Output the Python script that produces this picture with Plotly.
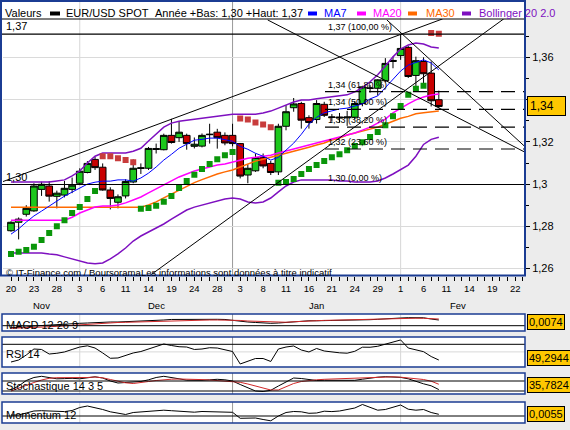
import plotly.graph_objects as go

W, H = 570, 430

# ---------------- data ----------------
nov_days = [20, 21, 22, 23, 26, 27, 28, 29, 30]
dec_days = [3, 4, 5, 6, 7, 10, 11, 12, 13, 14, 17, 18, 19, 20, 21, 24, 26, 27, 28, 31]
jan_days = [2, 3, 4, 7, 8, 9, 10, 11, 14, 15, 16, 17, 18, 21, 22, 23, 24, 25, 28, 29, 30, 31]
feb_days = [1, 4, 5, 6, 7, 8, 11, 12, 13, 14, 15, 18, 19, 20, 21, 22]
month_names = ['Nov', 'Dec', 'Jan', 'Fev']

open_ = [1.2779, 1.2819, 1.2857, 1.2873, 1.2975, 1.2991, 1.2942, 1.2948, 1.2975, 1.3004,
         1.3055, 1.3117, 1.3080, 1.2972, 1.2914, 1.2944, 1.3010, 1.3074, 1.3075, 1.3164,
         1.3163, 1.3231, 1.3220, 1.3231, 1.3179, 1.3180, 1.3234, 1.3246, 1.3231, 1.3231,
         1.3192, 1.3043, 1.3063, 1.3126, 1.3098, 1.3058, 1.3274, 1.3362, 1.3382, 1.3315,
         1.3306, 1.3378, 1.3316, 1.3318, 1.3314, 1.3317, 1.3382, 1.3456, 1.3454, 1.3490,
         1.3581, 1.3609, 1.3648, 1.3515, 1.3581, 1.3526, 1.3400]
high = [1.2824, 1.2842, 1.2900, 1.3004, 1.3011, 1.3014, 1.2969, 1.3015, 1.3031, 1.3075,
        1.3109, 1.3129, 1.3098, 1.2985, 1.2951, 1.3023, 1.3117, 1.3098, 1.3176, 1.3192,
        1.3239, 1.3309, 1.3298, 1.3239, 1.3221, 1.3240, 1.3286, 1.3262, 1.3245, 1.3286,
        1.3195, 1.3094, 1.3145, 1.3145, 1.3110, 1.3286, 1.3374, 1.3408, 1.3390, 1.3326,
        1.3398, 1.3390, 1.3332, 1.3337, 1.3347, 1.3394, 1.3466, 1.3469, 1.3497, 1.3597,
        1.3604, 1.3711, 1.3654, 1.3604, 1.3601, 1.3581, 1.3443]
low = [1.2774, 1.2738, 1.2846, 1.2869, 1.2944, 1.2917, 1.2885, 1.2937, 1.2957, 1.2995,
       1.3051, 1.3067, 1.2969, 1.2880, 1.2885, 1.2932, 1.3004, 1.3048, 1.3067, 1.3145,
       1.3160, 1.3192, 1.3200, 1.3163, 1.3169, 1.3174, 1.3192, 1.3168, 1.3184, 1.3179,
       1.3027, 1.3004, 1.3058, 1.3075, 1.3043, 1.3043, 1.3255, 1.3343, 1.3263, 1.3263,
       1.3287, 1.3318, 1.3296, 1.3291, 1.3276, 1.3307, 1.3369, 1.3434, 1.3420, 1.3482,
       1.3549, 1.3589, 1.3503, 1.3462, 1.3479, 1.3368, 1.3361]
close = [1.2819, 1.2834, 1.2885, 1.2991, 1.2999, 1.2943, 1.2957, 1.2980, 1.2995, 1.3061,
         1.3098, 1.3078, 1.2972, 1.2932, 1.2940, 1.3012, 1.3075, 1.3077, 1.3169, 1.3168,
         1.3231, 1.3197, 1.3246, 1.3192, 1.3189, 1.3231, 1.3236, 1.3220, 1.3195, 1.3192,
         1.3038, 1.3075, 1.3126, 1.3086, 1.3055, 1.3274, 1.3343, 1.3380, 1.3303, 1.3292,
         1.3382, 1.3326, 1.3318, 1.3314, 1.3318, 1.3382, 1.3461, 1.3454, 1.3494, 1.3572,
         1.3586, 1.3643, 1.3510, 1.3585, 1.3523, 1.3395, 1.3368]

ma7 = [1.2763, 1.2788, 1.2820, 1.2849, 1.2872, 1.2896, 1.2920, 1.2943, 1.2962, 1.2981,
       1.3000, 1.3009, 1.3014, 1.3014, 1.3020, 1.3020, 1.3014, 1.3029, 1.3052, 1.3081,
       1.3114, 1.3141, 1.3170, 1.3189, 1.3208, 1.3212, 1.3218, 1.3218, 1.3212, 1.3203,
       1.3179, 1.3165, 1.3146, 1.3132, 1.3114, 1.3127, 1.3161, 1.3194, 1.3236, 1.3284,
       1.3316, 1.3338, 1.3347, 1.3356, 1.3360, 1.3370, 1.3380, 1.3404, 1.3418, 1.3457,
       1.3494, 1.3536, 1.3564, 1.3578, 1.3589, 1.3574, 1.3541]
ma20 = [1.2829, 1.2829, 1.2829, 1.2829, 1.2829, 1.2829, 1.2829, 1.2829, 1.2843, 1.2863,
        1.2877, 1.2891, 1.2896, 1.2896, 1.2901, 1.2911, 1.2925, 1.2939, 1.2958, 1.2977,
        1.2996, 1.3015, 1.3034, 1.3048, 1.3062, 1.3072, 1.3081, 1.3090, 1.3095, 1.3104,
        1.3114, 1.3123, 1.3127, 1.3132, 1.3137, 1.3147, 1.3156, 1.3166, 1.3175, 1.3185,
        1.3195, 1.3204, 1.3214, 1.3224, 1.3233, 1.3242, 1.3256, 1.3270, 1.3289, 1.3308,
        1.3338, 1.3361, 1.3380, 1.3399, 1.3413, 1.3422, 1.3427]
ma30 = [1.2890, 1.2890, 1.2890, 1.2890, 1.2890, 1.2890, 1.2890, 1.2890, 1.2890, 1.2890,
        1.2890, 1.2890, 1.2890, 1.2890, 1.2890, 1.2890, 1.2890, 1.2890, 1.2901, 1.2916,
        1.2935, 1.2954, 1.2973, 1.2992, 1.3007, 1.3021, 1.3035, 1.3048, 1.3058, 1.3067,
        1.3081, 1.3095, 1.3109, 1.3118, 1.3127, 1.3137, 1.3147, 1.3156, 1.3166, 1.3175,
        1.3185, 1.3195, 1.3209, 1.3218, 1.3233, 1.3242, 1.3251, 1.3261, 1.3270, 1.3284,
        1.3298, 1.3312, 1.3321, 1.3333, 1.3338, 1.3342, 1.3346]
boll_up = [1.3010, 1.3010, 1.3010, 1.3010, 1.3010, 1.3010, 1.3015, 1.3020, 1.3039, 1.3062,
           1.3100, 1.3132, 1.3147, 1.3147, 1.3147, 1.3147, 1.3156, 1.3170, 1.3204, 1.3236,
           1.3270, 1.3289, 1.3298, 1.3303, 1.3307, 1.3312, 1.3316, 1.3321, 1.3326, 1.3331,
           1.3331, 1.3331, 1.3331, 1.3337, 1.3346, 1.3360, 1.3374, 1.3389, 1.3399, 1.3399,
           1.3404, 1.3409, 1.3414, 1.3418, 1.3423, 1.3437, 1.3457, 1.3485, 1.3518, 1.3560,
           1.3603, 1.3640, 1.3659, 1.3669, 1.3664, 1.3650, 1.3645]
boll_low = [1.2674, 1.2674, 1.2674, 1.2674, 1.2674, 1.2669, 1.2665, 1.2655, 1.2646, 1.2636,
            1.2626, 1.2622, 1.2626, 1.2646, 1.2669, 1.2697, 1.2730, 1.2754, 1.2773, 1.2791,
            1.2811, 1.2834, 1.2857, 1.2877, 1.2891, 1.2901, 1.2911, 1.2920, 1.2929, 1.2934,
            1.2929, 1.2915, 1.2911, 1.2915, 1.2934, 1.2963, 1.2991, 1.3010, 1.3020, 1.3020,
            1.3020, 1.3020, 1.3020, 1.3015, 1.3015, 1.3010, 1.3010, 1.3010, 1.3015, 1.3029,
            1.3048, 1.3067, 1.3090, 1.3132, 1.3188, 1.3212, 1.3222]
sar = [1.2669, 1.2679, 1.2688, 1.2703, 1.2735, 1.2768, 1.2800, 1.2829, 1.2863, 1.2891,
       1.2929, 1.2967, 1.3132, 1.3132, 1.3123, 1.3114, 1.3104, 1.2883, 1.2887, 1.2897,
       1.2916, 1.2944, 1.2981, 1.3015, 1.3044, 1.3072, 1.3095, 1.3118, 1.3137, 1.3152,
       1.3311, 1.3306, 1.3292, 1.3283, 1.3269, 1.3006, 1.3010, 1.3024, 1.3048, 1.3072,
       1.3090, 1.3109, 1.3127, 1.3142, 1.3161, 1.3180, 1.3198, 1.3223, 1.3247, 1.3279,
       1.3321, 1.3370, 1.3423, 1.3452, 1.3466, 1.3716, 1.3712]
sar_trend = "UUUUUUUUUUUUDDDDDUUUUUUUUUUUUUDDDDDUUUUUUUUUUUUUUUUUUUUDD"

macd = [-0.0026, -0.0026, -0.0017, -0.0004, 0.0003, 0.0009, 0.0016, 0.0022, 0.0029, 0.0031,
        0.0035, 0.0042, 0.0048, 0.0048, 0.0048, 0.0052, 0.0052, 0.0055, 0.0061, 0.0068,
        0.0074, 0.0081, 0.0083, 0.0083, 0.0083, 0.0083, 0.0083, 0.0083, 0.0081, 0.0068,
        0.0055, 0.0048, 0.0042, 0.0035, 0.0031, 0.0035, 0.0042, 0.0052, 0.0061, 0.0064,
        0.0064, 0.0065, 0.0065, 0.0068, 0.0070, 0.0071, 0.0074, 0.0078, 0.0083, 0.0091,
        0.0096, 0.0100, 0.0104, 0.0104, 0.0103, 0.0087, 0.0074]
macd_signal = [-0.0034, -0.0032, -0.0030, -0.0026, -0.0021, -0.0014, -0.0008, -0.0001, 0.0006, 0.0016,
               0.0022, 0.0027, 0.0032, 0.0038, 0.0042, 0.0044, 0.0047, 0.0051, 0.0055, 0.0058,
               0.0062, 0.0066, 0.0070, 0.0073, 0.0074, 0.0074, 0.0074, 0.0074, 0.0074, 0.0071,
               0.0068, 0.0061, 0.0056, 0.0051, 0.0047, 0.0044, 0.0045, 0.0051, 0.0057, 0.0062,
               0.0066, 0.0069, 0.0071, 0.0074, 0.0077, 0.0079, 0.0082, 0.0084, 0.0087, 0.0090,
               0.0094, 0.0096, 0.0097, 0.0097, 0.0096, 0.0092, 0.0087]
rsi = [46.7, 49.3, 55.9, 63.8, 63.2, 57.2, 58.2, 59.9, 63.2, 66.4,
       68.0, 65.1, 58.6, 51.6, 52.0, 55.3, 58.6, 60.5, 63.8, 67.1,
       70.4, 68.4, 66.8, 66.4, 63.2, 63.8, 65.5, 65.1, 63.2, 60.5,
       44.1, 48.0, 51.3, 51.3, 47.4, 63.8, 66.4, 67.8, 62.5, 59.9,
       64.5, 61.2, 59.5, 58.8, 58.3, 60.8, 66.2, 66.1, 67.4, 70.4,
       73.7, 75.7, 65.1, 63.2, 60.3, 53.9, 49.2944]
stoch_k = [34, 50, 72, 84, 88.8, 84, 78.8, 79.6, 80.8, 78.8,
           84, 86.8, 82, 70, 62, 64, 66, 68, 74.8, 84,
           88.8, 84.8, 78.8, 73.2, 72, 72.8, 74.8, 76.8, 74.8, 70,
           56, 42, 30, 28, 32.8, 50, 66, 82, 80, 76,
           72, 72.8, 73.2, 70.8, 71.2, 72.8, 77.2, 82.4, 85.2, 87.2,
           87.2, 84.4, 78.8, 68, 58.8, 50.8, 35.7824]
stoch_d = [30, 42, 54, 64, 74, 80.8, 83.2, 83.2, 82, 81.2,
           84, 86, 82.8, 76, 68, 62.8, 60, 62.8, 68, 72,
           75.2, 77.2, 78, 78, 76.8, 75.6, 74, 72.4, 70.8, 68.8,
           64.8, 58, 50, 40.8, 34, 34, 46, 60, 68, 72,
           74.8, 76.8, 78, 79.2, 80.4, 81.2, 82.8, 84.4, 86, 86.8,
           86.8, 85.2, 82.8, 79.6, 76, 69.2, 57]
momentum = [0.0032, 0.0032, 0.0097, 0.0162, 0.0172, 0.0162, 0.0152, 0.0143, 0.0178, 0.0275,
            0.0324, 0.0275, 0.0211, 0.0136, 0.0081, 0.0049, 0.0113, 0.0130, 0.0152, 0.0168,
            0.0188, 0.0172, 0.0152, 0.0136, 0.0123, 0.0146, 0.0143, 0.0120, 0.0120, 0.0120,
            -0.0075, -0.0058, -0.0065, -0.0113, -0.0156, 0.0000, 0.0113, 0.0146, 0.0136, 0.0087,
            0.0097, 0.0156, 0.0143, 0.0162, 0.0201, 0.0259, 0.0373, 0.0275, 0.0188, 0.0211,
            0.0292, 0.0356, 0.0220, 0.0188, 0.0211, 0.0113, 0.0055]

year_low = 1.2998
year_high = 1.3711
fib_pcts = [23.6, 38.2, 50.0, 61.8]

# trend lines: (day index start, price start, day index end, price end)
trend_lines = [
    (-1.05, 1.3012, 56.5, 1.3783),
    (18.0, 1.2562, 64.5, 1.3783),
    (33.6, 1.3778, 67.5, 1.3147),
    (49.2, 1.3778, 67.5, 1.3170),
]

price_ticks = [1.26, 1.28, 1.30, 1.32, 1.34, 1.36]
price_ticktext = ['1,26', '1,28', '1,3', '1,32', '', '1,36']
price_minor = [1.27, 1.29, 1.31, 1.33, 1.35, 1.37]

# ---------------- helpers / layout constants ----------------
FONT = 'Liberation Sans, Arial, sans-serif'
BLUE = '#1B3C93'
GREEN = '#1CC81C'
RED = '#C80000'
PANEL_BG = '#ECECEC'


def fx(px):
    return px / W


def fy(py):
    return 1 - py / H


def fr(v, nd):
    return f'{v:.{nd}f}'.replace('.', ',')


months_days = [nov_days, dec_days, jan_days, feb_days]
days = [d for m in months_days for d in m]
month_start = []
k = 0
for m in months_days:
    month_start.append(k)
    k += len(m)
n_days = len(days)
xs = list(range(len(close)))
X0, X1 = -1.047, 67.28
MAIN_TOP, MAIN_BOT, RIGHT = 19, 275.5, 525
Y0 = 1.36 - (MAIN_BOT - 57.5) / 2110
Y1 = 1.36 + (57.5 - MAIN_TOP) / 2110

fig = go.Figure()

# ---------------- main chart traces ----------------
fig.add_trace(go.Candlestick(
    x=xs, open=open_, high=high, low=low, close=close,
    increasing=dict(fillcolor=GREEN, line=dict(color='black', width=1)),
    decreasing=dict(fillcolor=RED, line=dict(color='black', width=1)),
    whiskerwidth=0, hoverinfo='skip', xaxis='x', yaxis='y'))

for series, col, wd in [(boll_up, '#7E10C0', 1.5), (boll_low, '#7E10C0', 1.5),
                        (ma30, '#FF6A00', 1.5), (ma20, '#FF00FF', 1.5), (ma7, '#0000FF', 1)]:
    fig.add_trace(go.Scatter(x=xs, y=series, mode='lines', line=dict(color=col, width=wd),
                             hoverinfo='skip', xaxis='x', yaxis='y'))

sar_up = [v if t == 'U' else None for v, t in zip(sar, sar_trend)]
sar_dn = [v if t == 'D' else None for v, t in zip(sar, sar_trend)]
fig.add_trace(go.Scatter(x=xs, y=sar_up, mode='markers',
                         marker=dict(symbol='square', size=6, color='#0A960A', line=dict(width=0)),
                         hoverinfo='skip', xaxis='x', yaxis='y'))
fig.add_trace(go.Scatter(x=xs, y=sar_dn, mode='markers',
                         marker=dict(symbol='square', size=6, color='#C83C3C', line=dict(width=0)),
                         hoverinfo='skip', xaxis='x', yaxis='y'))

for (a, pa, b, pb) in trend_lines:
    fig.add_trace(go.Scatter(x=[a, b], y=[pa, pb], mode='lines', line=dict(color='black', width=1),
                             hoverinfo='skip', xaxis='x', yaxis='y'))

# ---------------- indicator panels ----------------
panels = [
    dict(name='MACD 12 26 9', top=314, bot=331, rng=[-0.006883, 0.015195],
         hl=[(0, 'black')], series=[(macd, 'black'), (macd_signal, '#D02828')], value=macd[-1]),
    dict(name='RSI 14', top=337, bot=367, rng=[40.13, 79.6],
         hl=[(70, 'black'), (60, '#D8D8D8')], series=[(rsi, 'black')], value=rsi[-1]),
    dict(name='Stochastique 14 3 5', top=373, bot=394, rng=[18, 102],
         hl=[(70, 'black'), (30, 'black')], series=[(stoch_k, 'black'), (stoch_d, '#D02828')], value=stoch_k[-1]),
    dict(name='Momentum 12', top=402, bot=423, rng=[-0.02268, 0.04536],
         hl=[(0, 'black')], series=[(momentum, 'black')], value=momentum[-1]),
]

shapes = []
annotations = []
layout_axes = {}

# main white panel
shapes.append(dict(type='rect', xref='paper', yref='paper', x0=fx(1), x1=fx(RIGHT), y0=fy(MAIN_BOT), y1=fy(1),
                   fillcolor='white', line=dict(width=0), layer='below'))

for j, p in enumerate(panels):
    n = j + 2
    for series, col in p['series']:
        fig.add_trace(go.Scatter(x=xs, y=series, mode='lines', line=dict(color=col, width=1),
                                 hoverinfo='skip', xaxis=f'x{n}', yaxis=f'y{n}'))
    layout_axes[f'xaxis{n}'] = dict(domain=[fx(3), fx(RIGHT)], range=[X0, X1], visible=False,
                                    anchor=f'y{n}', fixedrange=True)
    layout_axes[f'yaxis{n}'] = dict(domain=[fy(p['bot']), fy(p['top'])], range=p['rng'], visible=False,
                                    anchor=f'x{n}', fixedrange=True)
    shapes.append(dict(type='rect', xref='paper', yref='paper', x0=fx(2), x1=fx(RIGHT),
                       y0=fy(p['bot']), y1=fy(p['top']), fillcolor='white', line=dict(width=0), layer='below'))
    for val, col in p['hl']:
        shapes.append(dict(type='line', xref='paper', yref=f'y{n}', x0=fx(2), x1=fx(RIGHT), y0=val, y1=val,
                           line=dict(color=col, width=1), layer='below' if col != 'black' else 'above'))
    shapes.append(dict(type='rect', xref='paper', yref='paper', x0=fx(2), x1=fx(RIGHT),
                       y0=fy(p['bot']), y1=fy(p['top']), line=dict(color=BLUE, width=1.5), layer='above'))
    annotations.append(dict(x=fx(4), y=fy((p['top'] + p['bot']) / 2 + 2), xref='paper', yref='paper',
                            xanchor='left', yanchor='middle', text=p['name'], showarrow=False,
                            font=dict(family=FONT, size=11, color='black')))
    # value box
    lo, hi = p['rng']
    vy = p['top'] + (hi - p['value']) / (hi - lo) * (p['bot'] - p['top'])
    vy = min(max(vy, p['top'] + 7.5), p['bot'] - 9.5)
    annotations.append(dict(x=fx(527), y=fy(vy), xref='paper', yref='paper', xanchor='left', yanchor='middle',
                            text=fr(p['value'], 4), showarrow=False, bgcolor='#FFC800', bordercolor='black',
                            borderwidth=1, borderpad=1, font=dict(family=FONT, size=11, color='black')))

# month gridlines
for j in range(1, len(month_start)):
    ms = month_start[j]
    col = '#9A9A9A' if month_names[j] == 'Jan' else '#D6D6D6'
    for (t, b) in [(1, MAIN_BOT)] + [(p['top'], p['bot']) for p in panels]:
        shapes.append(dict(type='line', xref='x', yref='paper', x0=ms, x1=ms, y0=fy(b), y1=fy(t),
                           line=dict(color=col, width=1), layer='below'))

# header separator line
shapes.append(dict(type='line', xref='paper', yref='paper', x0=fx(2), x1=fx(RIGHT), y0=fy(MAIN_TOP),
                   y1=fy(MAIN_TOP), line=dict(color='black', width=1), layer='above'))

# fibonacci
fib_x_start = (325 - 11) / 7.64
for lvl_pct in [0.0] + fib_pcts + [100.0]:
    lvl = year_low + (year_high - year_low) * lvl_pct / 100
    if lvl_pct in (0.0, 100.0):
        shapes.append(dict(type='line', xref='paper', yref='y', x0=fx(2), x1=fx(RIGHT), y0=lvl, y1=lvl,
                           line=dict(color='black', width=1.2), layer='above'))
    else:
        shapes.append(dict(type='line', xref='x', yref='y', x0=fib_x_start, x1=X1, y0=lvl, y1=lvl,
                           line=dict(color='black', width=1.2, dash='14px,8px'), layer='above'))
    annotations.append(dict(x=fx(326), y=lvl, xref='paper', yref='y', xanchor='left', yanchor='bottom',
                            text=f'{fr(lvl, 2)} ({fr(lvl_pct, 2)} %)', showarrow=False,
                            font=dict(family=FONT, size=9, color='black'), borderpad=1))

for lvl in (year_high, year_low):
    annotations.append(dict(x=fx(4), y=lvl, xref='paper', yref='y', xanchor='left', yanchor='bottom',
                            text=fr(lvl, 2), showarrow=False, font=dict(family=FONT, size=11, color='black'),
                            borderpad=1))

# main panel border
shapes.append(dict(type='rect', xref='paper', yref='paper', x0=fx(1), x1=fx(RIGHT), y0=fy(MAIN_BOT), y1=fy(1),
                   line=dict(color=BLUE, width=2), layer='above'))

# header
hdr_y = fy(13.5)
hdr_items = [
    (3, 'Valeurs', 'black', None),
    (64, 'EUR/USD SPOT', 'black', (50, 60)),
    (153, f'Année +Bas: {fr(year_low, 2)} +Haut: {fr(year_high, 2)}', 'black', None),
    (322, 'MA7', '#0000FF', (308, 317)),
    (371, 'MA20', '#FF00FF', (357, 366)),
    (424, 'MA30', '#FF6A00', (408, 417)),
    (477, 'Bollinger 20 2.0', '#7E10C0', (462, 471)),
]
for xpx, txt, col, mark in hdr_items:
    annotations.append(dict(x=fx(xpx), y=hdr_y, xref='paper', yref='paper', xanchor='left', yanchor='middle',
                            text=txt, showarrow=False, font=dict(family=FONT, size=11, color=col)))
    if mark:
        shapes.append(dict(type='rect', xref='paper', yref='paper', x0=fx(mark[0]), x1=fx(mark[1]),
                           y0=fy(15.5), y1=fy(11.5), fillcolor=col, line=dict(width=0), layer='above'))

# last price box
annotations.append(dict(x=fx(527), y=close[-1], xref='paper', yref='y', xanchor='left', yanchor='middle',
                        text=fr(close[-1], 2), showarrow=False, bgcolor='#FFC800', bordercolor='black',
                        borderwidth=1, borderpad=2, width=33, align='left',
                        font=dict(family=FONT, size=12, color='black')))

# watermark
annotations.append(dict(x=fx(4), y=fy(272.5), xref='paper', yref='paper', xanchor='left', yanchor='middle',
                        text='© IT-Finance.com / Boursorama', showarrow=False,
                        font=dict(family=FONT, size=9.5, color='black')))
annotations.append(dict(x=fx(139), y=fy(272.5), xref='paper', yref='paper', xanchor='left', yanchor='middle',
                        text='Les informations sont données à titre indicatif', showarrow=False,
                        font=dict(family=FONT, size=9.5, color='black')))

# month labels
bounds = [X0] + month_start[1:] + [n_days - 1]
for j, name in enumerate(month_names):
    cx = (bounds[j] + bounds[j + 1]) / 2
    annotations.append(dict(x=cx, y=fy(305), xref='x', yref='paper', xanchor='center', yanchor='middle',
                            text=name, showarrow=False, font=dict(family=FONT, size=9.5, color='black')))

tickvals = list(range(0, n_days + 1))
ticktext = [str(days[i]) if (i < n_days and i % 3 == 0) else '' for i in tickvals]

fig.update_layout(
    width=W, height=H, margin=dict(l=0, r=0, t=0, b=0),
    paper_bgcolor=PANEL_BG, plot_bgcolor='rgba(0,0,0,0)', showlegend=False,
    boxgap=0.05, boxgroupgap=0.08,
    xaxis=dict(domain=[fx(3), fx(RIGHT)], range=[X0, X1], tickvals=tickvals, ticktext=ticktext,
               ticks='outside', ticklen=4, tickcolor='black', tickwidth=1, showgrid=False, zeroline=False,
               showline=False, tickfont=dict(family=FONT, size=9.5, color='black'), fixedrange=True,
               rangeslider=dict(visible=False), anchor='y'),
    yaxis=dict(domain=[fy(MAIN_BOT), fy(MAIN_TOP)], range=[Y0, Y1], side='right', tickvals=price_ticks,
               ticktext=price_ticktext, ticks='outside', ticklen=4, tickcolor='black', showgrid=True,
               gridcolor='#DADADA', gridwidth=1, zeroline=False, showline=False,
               minor=dict(tickvals=price_minor, ticks='outside', ticklen=3, tickcolor='black', showgrid=False),
               tickfont=dict(family=FONT, size=11, color='black'), fixedrange=True, anchor='x'),
    shapes=shapes, annotations=annotations,
    **layout_axes,
)

fig.write_html('out.html')
